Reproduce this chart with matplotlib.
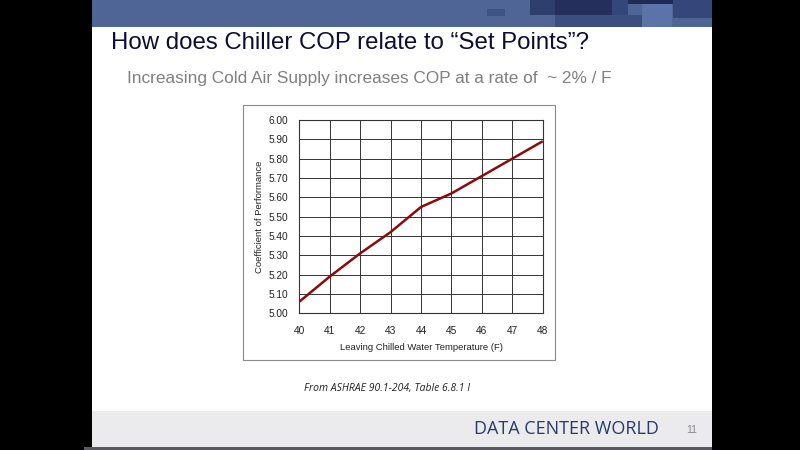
import matplotlib
matplotlib.use("Agg")
import matplotlib.pyplot as plt
from matplotlib.patches import Rectangle

temps = [40, 41, 42, 43, 44, 45, 46, 47, 48]
cop = [5.06, 5.19, 5.31, 5.42, 5.55, 5.62, 5.71, 5.80, 5.89]
yticks = [5.00, 5.10, 5.20, 5.30, 5.40, 5.50, 5.60, 5.70, 5.80, 5.90, 6.00]

title = "How does Chiller COP relate to \u201cSet Points\u201d?"
subtitle = "Increasing Cold Air Supply increases COP at a rate of  ~ 2% / F"
xlabel = "Leaving Chilled Water Temperature (F)"
ylabel = "Coefficient of Performance"
source = "From ASHRAE 90.1-204, Table 6.8.1 I"
brand = "DATA CENTER WORLD"
page = "11"

W, H = 800, 450
fig = plt.figure(figsize=(8, 4.5), dpi=100)
fig.patch.set_facecolor("black")

def px_rect(x0, y0, x1, y1, color, z=0, **kw):
    r = Rectangle((x0 / W, 1 - y1 / H), (x1 - x0) / W, (y1 - y0) / H,
                  transform=fig.transFigure, facecolor=color, edgecolor=kw.pop("ec", "none"),
                  zorder=z, **kw)
    fig.add_artist(r)

# slide background
px_rect(92, 0, 712, 448, "white", z=0)
# top band
px_rect(92, 0, 712, 27, "#4f6596", z=1)
px_rect(487, 9, 505, 16, "#3b5283", z=2)
px_rect(530, 0, 555, 15, "#2f3f6d", z=2)
px_rect(555, 15, 642, 27, "#3a4e80", z=2)
px_rect(555, 0, 612, 15, "#252f5c", z=3)
px_rect(612, 0, 628, 15, "#34467a", z=2)
px_rect(628, 0, 683, 4, "#1f2a55", z=3)
px_rect(642, 4, 672, 27, "#5b73a8", z=3)
px_rect(673, 0, 712, 18, "#34467a", z=3)
# footer band
px_rect(92, 411, 712, 447, "#ebebee", z=1)
px_rect(84, 447, 712, 450, "#555a66", z=1)

fig.text(111 / W, 1 - 43 / H, title, fontsize=17.3, color="#0d0d33",
         family="Liberation Sans", va="center", ha="left", zorder=5)
fig.text(127 / W, 1 - 78 / H, subtitle, fontsize=12.4, color="#808080",
         family="Liberation Sans", va="center", ha="left", zorder=5)
fig.text(304 / W, 1 - 388 / H, source, fontsize=7.5, color="#222222",
         family="Open Sans", style="italic", va="center", ha="left", zorder=5)
fig.text(474 / W, 1 - 429 / H, brand, fontsize=13, color="#2a3a6a",
         family="Open Sans", weight="medium", va="center", ha="left", zorder=5)
fig.text(692 / W, 1 - 430 / H, page, fontsize=7.5, color="#888888",
         family="Liberation Sans", va="center", ha="center", zorder=5)

# chart frame
px_rect(243, 105, 555, 360, "white", z=2, ec="#8a8a8a", lw=0.8)

ax = fig.add_axes([299.3 / W, 1 - 313.3 / H, (542.7 - 299.3) / W, (313.3 - 120) / H])
ax.set_zorder(6)
ax.plot(temps, cop, color="#8b0a0a", lw=1.8, solid_capstyle="butt", zorder=3)
ax.set_xlim(40, 48)
ax.set_ylim(5.0, 6.0)
ax.set_xticks(temps)
ax.set_yticks(yticks)
ax.set_yticklabels([f"{v:.2f}" for v in yticks])
ax.grid(True, color="#333333", lw=0.7)
for s in ax.spines.values():
    s.set_color("#333333")
    s.set_linewidth(0.8)
ax.tick_params(labelsize=7.3, length=0, colors="#222222")
ax.tick_params(axis="y", pad=8)
ax.tick_params(axis="x", pad=9)
for lab in ax.get_xticklabels() + ax.get_yticklabels():
    lab.set_family("Liberation Sans")
ax.set_xlabel(xlabel, fontsize=6.8, family="Liberation Sans", color="#222222", labelpad=5)
ax.set_ylabel(ylabel, fontsize=6.8, family="Liberation Sans", color="#222222", labelpad=3)

fig.savefig("out.png", dpi=100, facecolor=fig.get_facecolor())
